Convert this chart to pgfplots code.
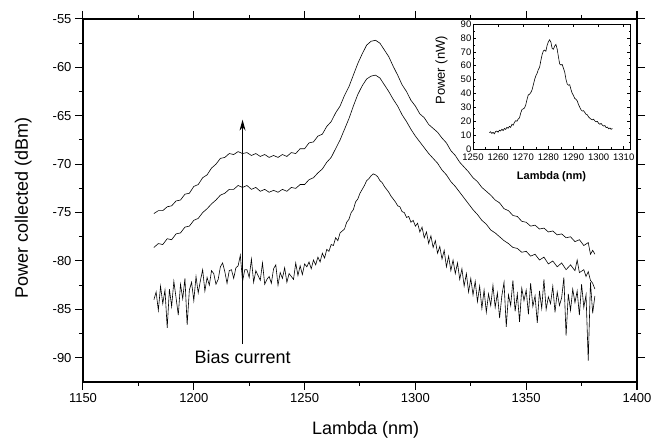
\documentclass[border=0pt]{standalone}
\usepackage{fontspec}
\setmainfont{Liberation Sans}
\usepackage{pgfplots}
\pgfplotsset{compat=1.18}
\usetikzlibrary{arrows.meta}
\begin{document}
\begin{tikzpicture}
  \path[use as bounding box] (-83pt,-61pt) rectangle (571pt,382pt);
  \begin{axis}[
      at={(0pt,0pt)}, anchor=south west,
      scale only axis,
      width=554pt, height=363pt,
      xmin=1150, xmax=1400,
      ymin=-92.5, ymax=-55,
      xtick={1150,1200,...,1400},
      ytick={-90,-85,...,-55},
      minor x tick num=1,
      minor y tick num=1,
      tick align=outside,
      major tick length=8pt,
      minor tick length=4pt,
      every tick/.style={black, line width=1pt},
      axis line style={line width=1.3pt},
      /pgf/number format/assume math mode=true,
      /pgf/number format/1000 sep={},
      tick label style={font=\fontsize{13}{15}\selectfont},
      xlabel={Lambda (nm)},
      ylabel={Power collected (dBm)},
      every axis x label/.style={at={(rel axis cs:0.51,-0.132)}, anchor=center, font=\fontsize{18}{21}\selectfont},
      every axis y label/.style={at={(rel axis cs:-0.108,0.48)}, anchor=center, rotate=90, font=\fontsize{18}{21}\selectfont},
      clip=false,
    ]
    % top curve
    \addplot[black, line width=0.6pt] coordinates {
      (1182,-75.1) (1184,-74.8) (1186,-74.8) (1188,-74.4) (1190,-74.3) (1192,-73.8)
      (1194,-73.7) (1196,-73.1) (1198,-73.0) (1200,-72.3) (1202,-72.1) (1204,-71.4)
      (1206,-71.1) (1208,-70.4) (1210,-70.0) (1212,-69.4) (1214,-69.3) (1216,-68.9)
      (1218,-69.0) (1220,-68.7) (1222,-68.9) (1224,-68.8) (1226,-69.1) (1228,-68.9)
      (1230,-69.2) (1232,-69.0) (1234,-69.3) (1236,-69.1) (1238,-69.3) (1240,-69.0)
      (1242,-69.2) (1244,-68.8) (1246,-68.9) (1248,-68.4) (1250,-68.4) (1252,-67.8)
      (1254,-67.7) (1256,-67.1) (1258,-66.9) (1260,-66.1) (1262,-65.6) (1264,-64.7)
      (1266,-64.0) (1268,-62.9) (1270,-62.0) (1272,-60.8) (1274,-59.6) (1276,-58.6)
      (1278,-57.7) (1280,-57.3) (1282,-57.2) (1284,-57.5) (1286,-58.2) (1288,-58.9)
      (1290,-59.9) (1292,-60.8) (1294,-61.8) (1296,-62.5) (1298,-63.4) (1300,-64.0)
      (1302,-64.8) (1304,-65.2) (1306,-65.9) (1308,-66.3) (1310,-66.7) (1312,-67.3)
      (1314,-67.8) (1316,-68.6) (1318,-69.1) (1320,-69.8) (1322,-70.3) (1324,-70.8)
      (1326,-71.4) (1328,-71.8) (1330,-72.4) (1332,-72.8) (1334,-73.2) (1336,-73.7)
      (1338,-74.0) (1340,-74.6) (1342,-74.8) (1344,-75.3) (1346,-75.4) (1348,-75.9)
      (1350,-76.0) (1352,-76.4) (1354,-76.3) (1356,-76.7) (1358,-76.6) (1360,-77.0)
      (1362,-76.9) (1364,-77.3) (1366,-77.2) (1368,-77.6) (1370,-77.5) (1372,-78.0)
      (1374,-77.8) (1376,-78.4) (1378,-78.1) (1379,-79.3) (1380,-78.9) (1381,-79.3)
    };
    % middle curve
    \addplot[black, line width=0.6pt] coordinates {
      (1182,-78.6) (1184,-78.2) (1186,-78.3) (1188,-77.7) (1190,-77.8) (1192,-77.2)
      (1194,-77.1) (1196,-76.5) (1198,-76.4) (1200,-75.8) (1202,-75.6) (1204,-75.0)
      (1206,-74.6) (1208,-74.1) (1210,-73.7) (1212,-73.2) (1214,-73.0) (1216,-72.6)
      (1218,-72.6) (1220,-72.2) (1222,-72.4) (1224,-72.2) (1226,-72.6) (1228,-72.4)
      (1230,-72.8) (1232,-72.6) (1234,-72.9) (1236,-72.7) (1238,-72.9) (1240,-72.6)
      (1242,-72.8) (1244,-72.4) (1246,-72.5) (1248,-72.1) (1250,-72.1) (1252,-71.6)
      (1254,-71.4) (1256,-70.9) (1258,-70.5) (1260,-69.8) (1262,-69.3) (1264,-68.4)
      (1266,-67.5) (1268,-66.4) (1270,-65.3) (1272,-64.0) (1274,-62.8) (1276,-61.9)
      (1278,-61.2) (1280,-60.9) (1282,-60.8) (1284,-61.1) (1286,-61.8) (1288,-62.5)
      (1290,-63.3) (1292,-64.0) (1294,-64.9) (1296,-65.6) (1298,-66.4) (1300,-67.1)
      (1302,-67.7) (1304,-68.3) (1306,-68.9) (1308,-69.4) (1310,-69.9) (1312,-70.6)
      (1314,-71.1) (1316,-71.8) (1318,-72.3) (1320,-72.9) (1322,-73.5) (1324,-74.1)
      (1326,-74.7) (1328,-75.2) (1330,-75.8) (1332,-76.2) (1334,-76.8) (1336,-77.1)
      (1338,-77.5) (1340,-77.9) (1342,-78.2) (1344,-78.6) (1346,-78.7) (1348,-79.1)
      (1350,-79.0) (1352,-79.5) (1354,-79.3) (1356,-79.9) (1358,-79.6) (1360,-80.3)
      (1362,-80.0) (1364,-80.6) (1366,-80.2) (1368,-80.9) (1370,-80.4) (1372,-81.0)
      (1373,-79.9) (1374,-81.2) (1376,-80.9) (1377,-81.6) (1378,-81.1) (1379,-82.0)
      (1380,-82.3) (1381,-82.9)
    };
    % bottom (noisy) curve
    \addplot[black, line width=0.6pt] coordinates {
      (1182,-84.0) (1183,-83.2) (1184,-85.1) (1185,-82.6) (1186,-84.4) (1187,-83.0)
      (1188,-86.9) (1189,-82.9) (1190,-84.7) (1191,-82.1) (1192,-83.8) (1193,-85.6)
      (1194,-82.4) (1195,-83.9) (1196,-81.8) (1197,-86.6) (1198,-83.0) (1199,-82.2)
      (1200,-84.1) (1201,-81.6) (1202,-83.3) (1203,-82.0) (1204,-80.9) (1205,-83.1)
      (1206,-81.7) (1207,-82.5) (1208,-81.0) (1209,-81.3) (1210,-82.4) (1211,-81.9)
      (1212,-80.6) (1213,-80.2) (1214,-81.1) (1215,-82.3) (1216,-81.0) (1217,-80.9)
      (1218,-81.8) (1219,-80.7) (1220,-80.5) (1221,-79.4) (1222,-82.1) (1223,-80.9)
      (1224,-80.9) (1225,-81.7) (1226,-79.8) (1227,-82.2) (1228,-81.0) (1229,-81.5)
      (1230,-82.0) (1231,-80.2) (1232,-82.4) (1233,-81.9) (1234,-81.6) (1235,-82.3)
      (1236,-80.8) (1237,-80.4) (1238,-82.5) (1239,-81.2) (1240,-81.8) (1241,-80.7)
      (1242,-82.2) (1243,-81.3) (1244,-81.6) (1245,-81.9) (1246,-80.2) (1247,-81.5)
      (1248,-80.5) (1249,-81.4) (1250,-80.3) (1251,-80.6) (1252,-80.1) (1253,-80.8)
      (1254,-79.9) (1255,-80.4) (1256,-79.6) (1257,-80.1) (1258,-79.2) (1259,-79.7)
      (1260,-78.8) (1261,-79.0) (1262,-78.3) (1263,-78.4) (1264,-77.6) (1265,-77.9)
      (1266,-77.1) (1267,-76.9) (1268,-76.7) (1269,-76.0) (1270,-75.7) (1271,-75.0)
      (1272,-74.7) (1273,-73.9) (1274,-73.6) (1275,-73.0) (1276,-72.6) (1277,-72.2)
      (1278,-71.7) (1279,-71.5) (1280,-71.2) (1281,-71.0) (1282,-71.1) (1283,-71.3)
      (1284,-71.7) (1285,-71.9) (1286,-72.3) (1287,-72.6) (1288,-72.9) (1289,-73.3)
      (1290,-73.6) (1291,-73.9) (1292,-74.3) (1293,-74.4) (1294,-74.9) (1295,-75.0)
      (1296,-75.5) (1297,-75.4) (1298,-76.0) (1299,-75.8) (1300,-76.4) (1301,-76.1)
      (1302,-77.0) (1303,-76.5) (1304,-77.6) (1305,-77.0) (1306,-78.2) (1307,-77.4)
      (1308,-78.6) (1309,-77.9) (1310,-79.2) (1311,-78.5) (1312,-79.8) (1313,-78.9)
      (1314,-80.6) (1315,-79.5) (1316,-81.0) (1317,-79.9) (1318,-81.3) (1319,-80.2)
      (1320,-81.9) (1321,-80.8) (1322,-82.6) (1323,-81.3) (1324,-83.2) (1325,-81.8)
      (1326,-83.5) (1327,-82.1) (1328,-84.2) (1329,-82.6) (1330,-84.9) (1331,-83.0)
      (1332,-85.3) (1333,-83.4) (1334,-84.6) (1335,-82.5) (1336,-84.8) (1337,-83.3)
      (1338,-85.9) (1339,-83.6) (1340,-82.2) (1341,-86.8) (1342,-83.5) (1343,-84.6)
      (1344,-82.0) (1345,-85.2) (1346,-83.4) (1347,-86.3) (1348,-82.8) (1349,-84.1)
      (1350,-83.0) (1351,-85.5) (1352,-82.3) (1353,-84.7) (1354,-83.6) (1355,-86.4)
      (1356,-83.1) (1357,-84.9) (1358,-81.9) (1359,-85.0) (1360,-83.7) (1361,-84.4)
      (1362,-82.6) (1363,-85.3) (1364,-83.2) (1365,-84.6) (1366,-83.8) (1367,-81.7)
      (1368,-87.7) (1369,-83.4) (1370,-85.1) (1371,-82.9) (1372,-84.3) (1373,-83.1)
      (1374,-85.6) (1375,-82.4) (1376,-84.8) (1377,-83.5) (1378,-90.3) (1379,-82.2)
      (1380,-85.4) (1381,-83.6)
    };
    \draw[line width=1pt, -{Stealth[length=11pt,width=6pt]}] (axis cs:1222,-88.6) -- (axis cs:1222,-65.4);
    \node[font=\fontsize{18}{21}\selectfont, fill=white, inner sep=1pt] at (axis cs:1222,-89.9) {Bias current};
  \end{axis}
  % inset
  \begin{axis}[
      at={(390pt,233pt)}, anchor=south west,
      scale only axis,
      width=157pt, height=125pt,
      xmin=1250, xmax=1312.5,
      ymin=0, ymax=90,
      xtick={1250,1260,...,1310},
      ytick={0,10,...,90},
      minor x tick num=1,
      minor y tick num=1,
      tick align=inside,
      major tick length=3pt,
      minor tick length=1.5pt,
      every tick/.style={black, line width=0.5pt},
      axis line style={line width=0.5pt},
      axis background/.style={fill=white},
      /pgf/number format/assume math mode=true,
      /pgf/number format/1000 sep={},
      tick label style={font=\fontsize{9.5}{11}\selectfont},
      xticklabel style={inner sep=1pt, yshift=-3.5pt},
      yticklabel style={inner sep=1.5pt},
      xlabel={\textbf{Lambda (nm)}},
      ylabel={Power (nW)},
      every axis x label/.style={at={(rel axis cs:0.5,-0.22)}, anchor=center, font=\fontsize{11}{13}\selectfont},
      every axis y label/.style={at={(rel axis cs:-0.2,0.63)}, anchor=center, rotate=90, font=\fontsize{13}{15}\selectfont},
    ]
    \addplot[black, line width=0.6pt] coordinates {
      (1256.5,11.8) (1257.0,12.4) (1257.5,11.2) (1258.0,12.0) (1258.5,10.9) (1259.0,12.6)
      (1259.5,12.9) (1260.0,12.1) (1260.5,13.5) (1261.0,13.0) (1261.5,14.2) (1262.0,13.3)
      (1262.5,14.8) (1263.0,14.1) (1263.5,15.6) (1264.0,14.9) (1264.5,16.3) (1265.0,15.6)
      (1265.5,17.8) (1266.0,17.1) (1266.5,19.2) (1267.0,20.4) (1267.5,20.0) (1268.0,21.6)
      (1268.5,22.4) (1269.0,25.9) (1269.5,28.4) (1270.0,28.9) (1270.5,29.5) (1271.0,31.8)
      (1271.5,35.6) (1272.0,38.9) (1272.5,39.4) (1273.0,40.6) (1273.5,42.5) (1274.0,46.1)
      (1274.5,49.8) (1275.0,52.6) (1275.5,54.4) (1276.0,57.2) (1276.5,58.8) (1277.0,63.5)
      (1277.5,67.9) (1278.0,70.6) (1278.5,71.2) (1279.0,70.4) (1279.5,74.6) (1280.0,77.2)
      (1280.5,78.6) (1281.0,77.0) (1281.5,72.4) (1282.0,71.8) (1282.5,74.1) (1283.0,75.3)
      (1283.5,72.0) (1284.0,66.5) (1284.5,61.2) (1285.0,60.5) (1285.5,60.9) (1286.0,58.2)
      (1286.5,55.4) (1287.0,50.3) (1287.5,46.8) (1288.0,45.9) (1288.5,46.3) (1289.0,42.8)
      (1289.5,40.1) (1290.0,38.5) (1290.5,36.4) (1291.0,35.8) (1291.5,34.6) (1292.0,32.0)
      (1292.5,30.1) (1293.0,28.2) (1293.5,27.3) (1294.0,27.6) (1294.5,26.3) (1295.0,25.0)
      (1295.5,24.6) (1296.0,23.1) (1296.5,22.2) (1297.0,21.5) (1297.5,21.0) (1298.0,21.4)
      (1298.5,20.2) (1299.0,19.6) (1299.5,19.9) (1300.0,18.5) (1300.5,17.8) (1301.0,18.4)
      (1301.5,17.2) (1302.0,16.5) (1302.5,16.9) (1303.0,15.4) (1303.5,15.8) (1304.0,14.6)
      (1304.5,15.1) (1305.0,14.2) (1305.5,14.7)
    };
  \end{axis}
\end{tikzpicture}
\end{document}
